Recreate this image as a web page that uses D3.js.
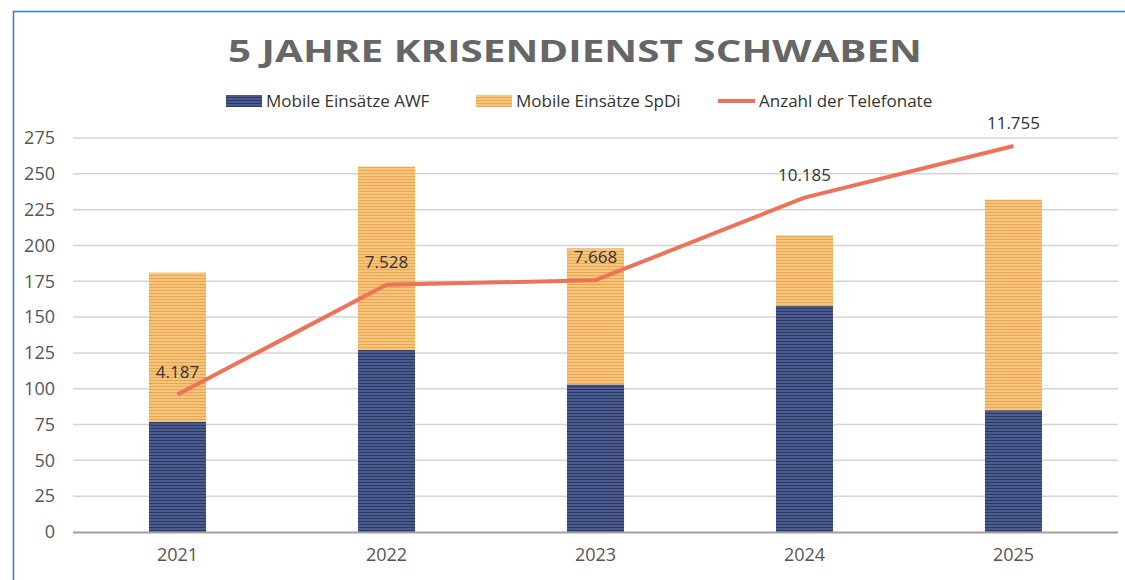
<!DOCTYPE html>
<html>
<head>
<meta charset="utf-8">
<script src="https://cdn.jsdelivr.net/npm/d3@7"></script>
<style>
  body { margin: 0; background: #fff; }
  #chart { width: 1125px; height: 580px; }
</style>
</head>
<body>
<div id="chart"></div>
<script>
const years = ["2021", "2022", "2023", "2024", "2025"];
const awf = [77, 127, 103, 158, 85];
const spdi = [104, 128, 95, 49, 147];
const calls = [4187, 7528, 7668, 10185, 11755];
const yTicks = [0, 25, 50, 75, 100, 125, 150, 175, 200, 225, 250, 275];

const svg = d3.select("#chart").append("svg")
  .attr("width", 1125)
  .attr("height", 580)
  .style("font-family", "'Open Sans', sans-serif");

// stripe patterns for the bars
const defs = svg.append("defs");
function stripes(id, base, line) {
  const p = defs.append("pattern")
    .attr("id", id)
    .attr("patternUnits", "userSpaceOnUse")
    .attr("width", 6).attr("height", 3);
  p.append("rect").attr("width", 6).attr("height", 3).attr("fill", base);
  p.append("rect").attr("y", 2).attr("width", 6).attr("height", 1).attr("fill", line);
}
stripes("navy", "#4b5b8e", "#2c3866");
stripes("orange", "#f6c47c", "#e6a74e");

// frame lines of the image
svg.append("line").attr("x1", 13).attr("x2", 1125).attr("y1", 11.5).attr("y2", 11.5)
  .attr("stroke", "#2f7fc8").attr("stroke-width", 1.5);
svg.append("line").attr("x1", 13.5).attr("x2", 13.5).attr("y1", 11).attr("y2", 580)
  .attr("stroke", "#2f7fc8").attr("stroke-width", 1.5);

const x = d3.scaleBand()
  .domain(years)
  .range([73, 1118])
  .paddingInner(0.727)
  .paddingOuter(0.3635);

const y = d3.scaleLinear().domain([0, 275]).range([532, 138]);
const y2 = d3.scaleLinear().domain([0, 12000]).range([532, 138]);

// gridlines
svg.append("g")
  .selectAll("line")
  .data(yTicks.filter(d => d > 0))
  .enter().append("line")
  .attr("x1", 73).attr("x2", 1118)
  .attr("y1", d => y(d)).attr("y2", d => y(d))
  .attr("stroke", "#d4d4d4").attr("stroke-width", 1.5);

// y axis labels
const yAxis = svg.append("g")
  .attr("transform", "translate(59,0)")
  .call(d3.axisLeft(y).tickValues(yTicks).tickSize(0).tickPadding(4));
yAxis.select(".domain").remove();
yAxis.selectAll("text")
  .attr("fill", "#555")
  .style("font-size", "18px")
  .style("font-family", "'Open Sans', sans-serif");

// bars
const stack = years.map((yr, i) => ({ year: yr, awf: awf[i], spdi: spdi[i] }));
svg.append("g").selectAll("rect")
  .data(stack)
  .enter().append("rect")
  .attr("x", d => x(d.year))
  .attr("width", x.bandwidth())
  .attr("y", d => y(d.awf))
  .attr("height", d => y(0) - y(d.awf))
  .attr("fill", "url(#navy)");

svg.append("g").selectAll("rect")
  .data(stack)
  .enter().append("rect")
  .attr("x", d => x(d.year))
  .attr("width", x.bandwidth())
  .attr("y", d => y(d.awf + d.spdi))
  .attr("height", d => y(d.awf) - y(d.awf + d.spdi))
  .attr("fill", "url(#orange)");

// baseline
svg.append("line")
  .attr("x1", 73).attr("x2", 1118)
  .attr("y1", y(0) + 0.5).attr("y2", y(0) + 0.5)
  .attr("stroke", "#a0a0a0").attr("stroke-width", 2);

// x axis labels
const xAxis = svg.append("g")
  .attr("transform", `translate(0,${y(0)})`)
  .call(d3.axisBottom(x).tickSize(0).tickPadding(16));
xAxis.select(".domain").remove();
xAxis.selectAll("text")
  .attr("fill", "#555")
  .style("font-size", "18px")
  .style("font-family", "'Open Sans', sans-serif");

// line of phone calls
const cx = d => x(d) + x.bandwidth() / 2;
const pts = years.map((yr, i) => ({ year: yr, v: calls[i] }));
svg.append("path")
  .datum(pts)
  .attr("fill", "none")
  .attr("stroke", "#ec7359")
  .attr("stroke-width", 4)
  .attr("stroke-linejoin", "round")
  .attr("d", d3.line().x(d => cx(d.year)).y(d => y2(d.v)));

svg.append("g").selectAll("text")
  .data(pts)
  .enter().append("text")
  .attr("x", d => cx(d.year))
  .attr("y", d => y2(d.v) - 17)
  .attr("text-anchor", "middle")
  .attr("fill", "#333")
  .style("font-size", "17px")
  .text(d => d3.format(",")(d.v).replace(",", "."));

// title
svg.append("text")
  .attr("x", 575).attr("y", 62)
  .attr("text-anchor", "middle")
  .attr("fill", "#666")
  .style("font-size", "31px")
  .style("font-weight", "bold")
  .attr("textLength", 694)
  .attr("lengthAdjust", "spacingAndGlyphs")
  .text("5 JAHRE KRISENDIENST SCHWABEN");

// legend
const legend = [
  { label: "Mobile Einsätze AWF", x: 226, type: "navy" },
  { label: "Mobile Einsätze SpDi", x: 476, type: "orange" },
  { label: "Anzahl der Telefonate", x: 718, type: "line" }
];
const lg = svg.append("g").selectAll("g")
  .data(legend)
  .enter().append("g")
  .attr("transform", d => `translate(${d.x},101)`);
lg.filter(d => d.type !== "line").append("rect")
  .attr("x", 0).attr("y", -6).attr("width", 36).attr("height", 12)
  .attr("fill", d => `url(#${d.type})`);
lg.filter(d => d.type === "line").append("line")
  .attr("x1", 0).attr("x2", 37).attr("y1", 0).attr("y2", 0)
  .attr("stroke", "#ec7359").attr("stroke-width", 4);
lg.append("text")
  .attr("x", d => d.type === "line" ? 41 : 40)
  .attr("y", 6)
  .attr("fill", "#333")
  .style("font-size", "17px")
  .text(d => d.label);
</script>
</body>
</html>
